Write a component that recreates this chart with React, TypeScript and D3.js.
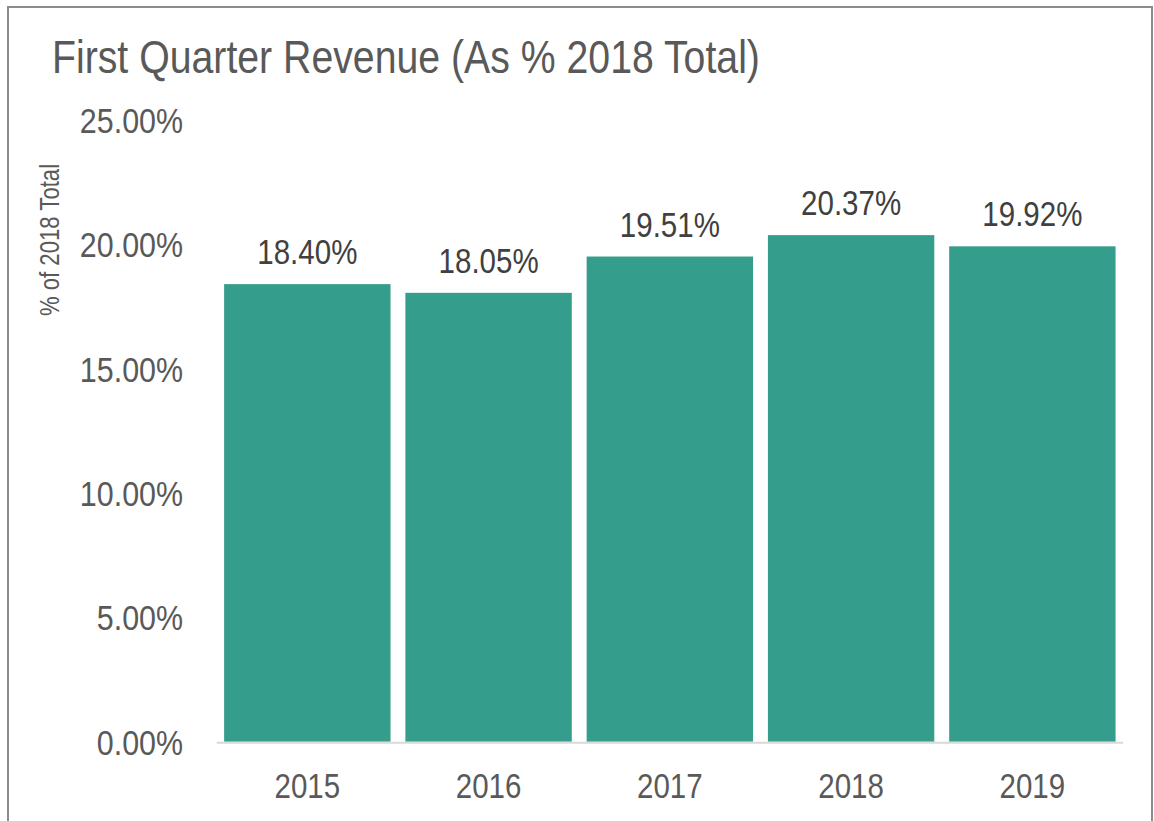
import React from "react";
import * as d3 from "d3";

const categories = ["2015", "2016", "2017", "2018", "2019"];
const values = [18.40, 18.05, 19.51, 20.37, 19.92];
const yTicks = [0, 5, 10, 15, 20, 25];
const titleText = "First Quarter Revenue (As % 2018 Total)";
const yAxisTitle = "% of 2018 Total";

const W = 1154;
const H = 821;
const FONT = "'Liberation Sans', Arial, sans-serif";
const NARROW = 0.82;

function NText(props: {
  x: number;
  y: number;
  size: number;
  fill: string;
  anchor?: string;
  rotate?: number;
  dy?: string;
  sx?: number;
  children: React.ReactNode;
}) {
  const { x, y, size, fill, anchor = "start", rotate = 0, dy, sx = NARROW, children } = props;
  return (
    <g transform={`translate(${x},${y}) rotate(${rotate}) scale(${sx},1)`}>
      <text x={0} y={0} dy={dy} textAnchor={anchor} fontSize={size} fill={fill}>
        {children}
      </text>
    </g>
  );
}

export default function App() {
  const x = d3
    .scaleBand<string>()
    .domain(categories)
    .range([216.7, 1123])
    .paddingInner(0.082)
    .paddingOuter(0.041);
  const y = d3.scaleLinear().domain([0, 25]).range([741.7, 120]);

  return (
    <svg
      width={W}
      height={H}
      style={{ position: "absolute", left: 0, top: 0, background: "#fff" }}
      fontFamily={FONT}
    >
      <rect x={8} y={7} width={1144} height={840} fill="#fff" stroke="#8c8c8c" strokeWidth={2} />
      <NText x={52} y={73} size={47} sx={0.835} fill="#595959">
        {titleText}
      </NText>
      <NText x={59} y={240} rotate={-90} anchor="middle" size={27} fill="#595959">
        {yAxisTitle}
      </NText>
      {yTicks.map((t) => (
        <NText key={t} x={183} y={y(t)} dy="0.36em" anchor="end" size={36} sx={0.845} fill="#595959">
          {t.toFixed(2) + "%"}
        </NText>
      ))}
      {categories.map((c, i) => (
        <g key={c}>
          <rect
            x={x(c)}
            y={y(values[i])}
            width={x.bandwidth()}
            height={y(0) - y(values[i])}
            fill="#349d8b"
          />
          <NText
            x={(x(c) as number) + x.bandwidth() / 2}
            y={y(values[i]) - 20}
            anchor="middle"
            size={36}
            fill="#404040"
          >
            {values[i].toFixed(2) + "%"}
          </NText>
          <NText
            x={(x(c) as number) + x.bandwidth() / 2}
            y={798}
            anchor="middle"
            size={36}
            fill="#595959"
          >
            {c}
          </NText>
        </g>
      ))}
      <line x1={216.7} x2={1123} y1={742.7} y2={742.7} stroke="#d9d9d9" strokeWidth={2} />
    </svg>
  );
}
